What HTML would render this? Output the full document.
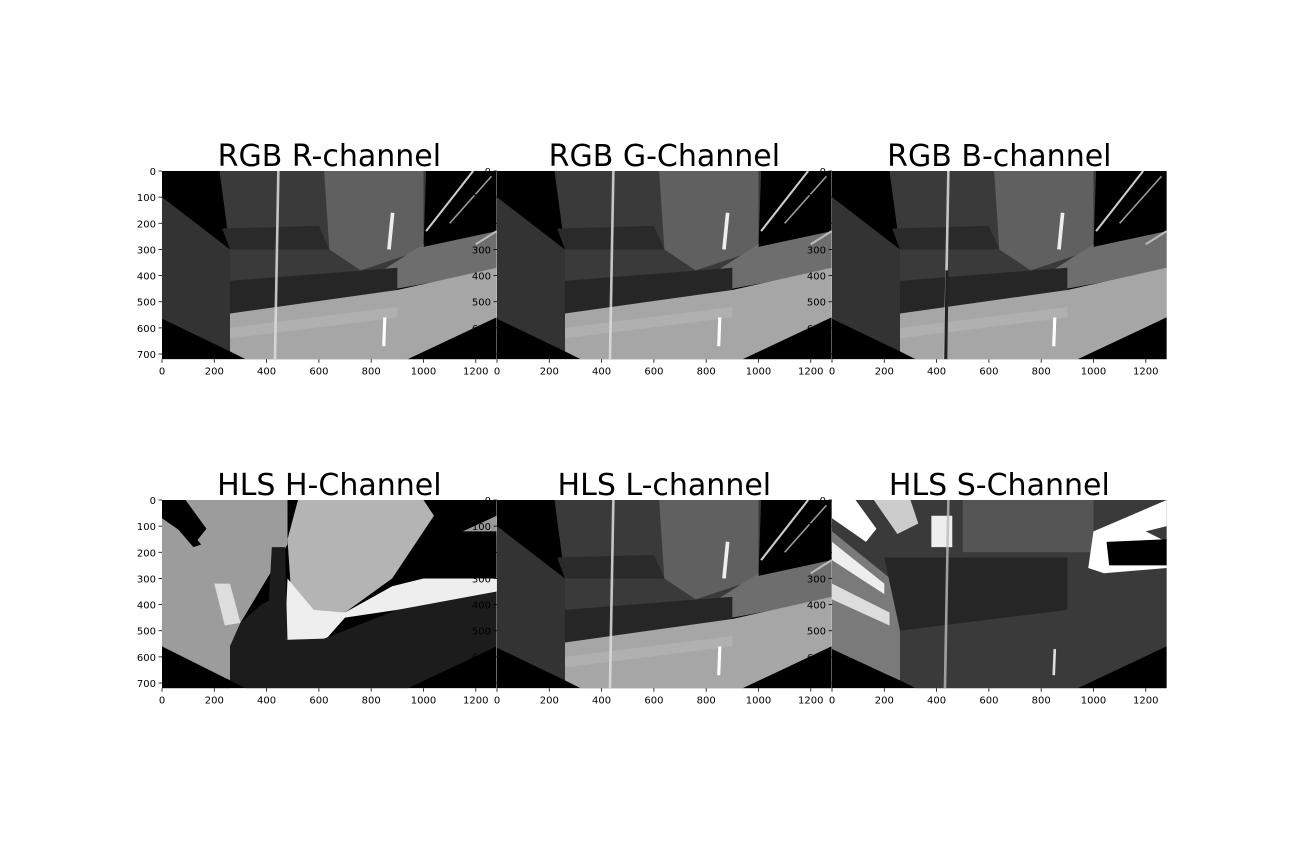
<!DOCTYPE html>
<html><head><meta charset="utf-8"><style>
html,body{margin:0;padding:0;background:#fff;}
svg{display:block;font-family:"DejaVu Sans","Liberation Sans",sans-serif;}
</style></head>
<body>
<svg id="fig" width="1296" height="864" viewBox="0 0 1296 864" xmlns="http://www.w3.org/2000/svg">
<rect width="1296" height="864" fill="#fff"/>
</svg>
<script>
const titles = ["RGB R-channel","RGB G-Channel","RGB B-channel","HLS H-Channel","HLS L-channel","HLS S-Channel"];
const panelNames = ["r-channel","g-channel","b-channel","h-channel","l-channel","s-channel"];
const sceneKinds = ["rgb","rgb","b","h","rgb","s"];
const xTicks = [0,200,400,600,800,1000,1200];
const yTicks = [0,100,200,300,400,500,600,700];
const imgW = 1280, imgH = 720;
const colX = [162,497,832], rowY = [171,500];
const S = 334.7/1280;
const NS = "http://www.w3.org/2000/svg";
const fig = document.getElementById('fig');

function rgbScene(kind){
  const laneLow = kind==="b" ? '<line x1="440" y1="380" x2="435" y2="720" stroke="#222" stroke-width="12"/>' : '';
  return `<rect width="1280" height="720" fill="#000"/>
<polygon points="0,100 260,300 260,690 0,565" fill="#333"/>
<polygon points="220,0 1010,0 1000,300 860,430 260,520 260,300" fill="#3a3a3a"/>
<polygon points="620,0 1000,0 1000,300 760,380 640,300" fill="#606060"/>
<polygon points="230,220 600,210 640,300 260,300" fill="#2a2a2a"/>
<polygon points="1000,280 1280,220 1280,380 900,450 780,420" fill="#6e6e6e"/>
<polygon points="260,420 900,370 900,470 260,545" fill="#262626"/>
<polygon points="260,545 900,455 1280,370 1280,560 940,720 320,720 260,690" fill="#a6a6a6"/>
<polygon points="260,600 900,520 900,560 260,640" fill="#b0b0b0"/>
<polygon points="1080,0 1280,0 1280,230 1000,290 1010,240" fill="#000"/>
<line x1="1010" y1="230" x2="1190" y2="0" stroke="#ccc" stroke-width="8"/>
<line x1="1100" y1="200" x2="1260" y2="20" stroke="#999" stroke-width="6"/>
<line x1="1200" y1="280" x2="1280" y2="230" stroke="#bbb" stroke-width="8"/>
<polygon points="940,720 1280,560 1280,720" fill="#000"/>
<line x1="445" y1="0" x2="432" y2="720" stroke="#ddd" stroke-width="10" opacity="0.85"/>
${laneLow}
<line x1="882" y1="160" x2="868" y2="300" stroke="#eee" stroke-width="14"/>
<line x1="852" y1="560" x2="848" y2="670" stroke="#fff" stroke-width="12"/>`;
}
function hScene(){
  return `<rect width="1280" height="720" fill="#000"/>
<polygon points="0,0 480,0 480,170 300,470 260,560 260,690 0,570" fill="#9c9c9c"/>
<polygon points="0,0 90,0 170,110 130,160 0,70" fill="#000"/>
<polygon points="0,40 40,40 150,170 120,180" fill="#000"/>
<polygon points="520,0 1000,0 1040,60 880,300 700,430 580,520 500,450 480,150" fill="#b4b4b4"/>
<polygon points="480,300 580,420 700,430 880,330 1000,300 1280,300 1280,360 900,420 700,450 620,540 470,535" fill="#eee"/>
<polygon points="200,320 260,320 300,470 240,480" fill="#ddd"/>
<polygon points="260,560 300,470 380,400 420,380 470,535 620,530 900,420 1280,350 1280,560 940,720 320,720 260,690" fill="#1c1c1c"/>
<polygon points="420,180 470,180 480,535 400,535" fill="#1c1c1c"/>
<polygon points="1040,60 1280,0 1280,120 1240,120 1280,140 1280,290 1030,270 1000,230" fill="#000"/>
<polygon points="1150,120 1280,60 1280,120" fill="#999"/>
<polygon points="0,560 260,690 260,720 0,720" fill="#000"/>`;
}
function sScene(){
  return `<rect width="1280" height="720" fill="#000"/>
<polygon points="0,0 1280,0 1280,560 940,720 320,720 260,690 0,570" fill="#3a3a3a"/>
<polygon points="500,0 1000,0 1000,200 500,200" fill="#555"/>
<polygon points="0,120 260,330 260,690 0,570" fill="#7a7a7a"/>
<polygon points="0,160 200,320 200,360 0,230" fill="#eee"/>
<polygon points="0,320 220,430 220,480 0,380" fill="#ddd"/>
<polygon points="0,0 90,0 170,110 130,160 0,70" fill="#fff"/>
<polygon points="160,0 300,0 330,90 250,130" fill="#ccc"/>
<polygon points="380,60 460,60 460,180 380,180" fill="#eee"/>
<polygon points="200,220 900,220 900,420 260,500" fill="#262626"/>
<polygon points="1000,120 1280,0 1280,100 1200,120 1280,160 1280,260 1040,280 980,260" fill="#fff"/>
<polygon points="1050,160 1280,150 1280,250 1060,250" fill="#000"/>
<polygon points="940,720 1280,560 1280,720" fill="#000"/>
<line x1="445" y1="0" x2="432" y2="720" stroke="#bbb" stroke-width="10" opacity="0.8"/>
<line x1="852" y1="570" x2="848" y2="670" stroke="#ddd" stroke-width="10"/>`;
}
function scene(kind){
  if(kind==="h") return hScene();
  if(kind==="s") return sScene();
  return rgbScene(kind);
}

for(let i=0;i<6;i++){
  const x0 = colX[i%3], y0 = rowY[Math.floor(i/3)];
  const g = document.createElementNS(NS,'g');
  
  
  fig.appendChild(g);
  const inner = document.createElementNS(NS,'svg');
  inner.setAttribute('x', x0); inner.setAttribute('y', y0);
  inner.setAttribute('width', imgW*S); inner.setAttribute('height', imgH*S);
  inner.setAttribute('viewBox', `0 0 ${imgW} ${imgH}`);
  inner.setAttribute('preserveAspectRatio','none');
  
  
  inner.innerHTML = scene(sceneKinds[i]);
  g.appendChild(inner);
  const t = document.createElementNS(NS,'text');
  t.setAttribute('x', x0 + imgW*S/2); t.setAttribute('y', y0-5);
  t.setAttribute('text-anchor','middle'); t.setAttribute('font-size','30');
  t.setAttribute('fill','#000');
  t.textContent = titles[i];
  
  
  g.appendChild(t);
  const yb = y0 + imgH*S;
  xTicks.forEach(v=>{
    const px = x0 + v*S;
    const l = document.createElementNS(NS,'line');
    l.setAttribute('x1',px); l.setAttribute('x2',px); l.setAttribute('y1',yb); l.setAttribute('y2',yb+3.5);
    l.setAttribute('stroke','#000'); l.setAttribute('stroke-width','0.8');
    
    
    g.appendChild(l);
    const tx = document.createElementNS(NS,'text');
    tx.setAttribute('x',px); tx.setAttribute('y',yb+15); tx.setAttribute('text-anchor','middle');
    tx.setAttribute('font-size','10'); tx.textContent = v;
    
    
    g.appendChild(tx);
  });
  yTicks.forEach(v=>{
    const py = y0 + v*S;
    const l = document.createElementNS(NS,'line');
    l.setAttribute('x1',x0-3.5); l.setAttribute('x2',x0); l.setAttribute('y1',py); l.setAttribute('y2',py);
    l.setAttribute('stroke','#000'); l.setAttribute('stroke-width','0.8');
    
    
    g.appendChild(l);
    const ty = document.createElementNS(NS,'text');
    ty.setAttribute('x',x0-6); ty.setAttribute('y',py+4); ty.setAttribute('text-anchor','end');
    ty.setAttribute('font-size','10'); ty.textContent = v;
    
    
    g.appendChild(ty);
  });
}
</script>
</body></html>
